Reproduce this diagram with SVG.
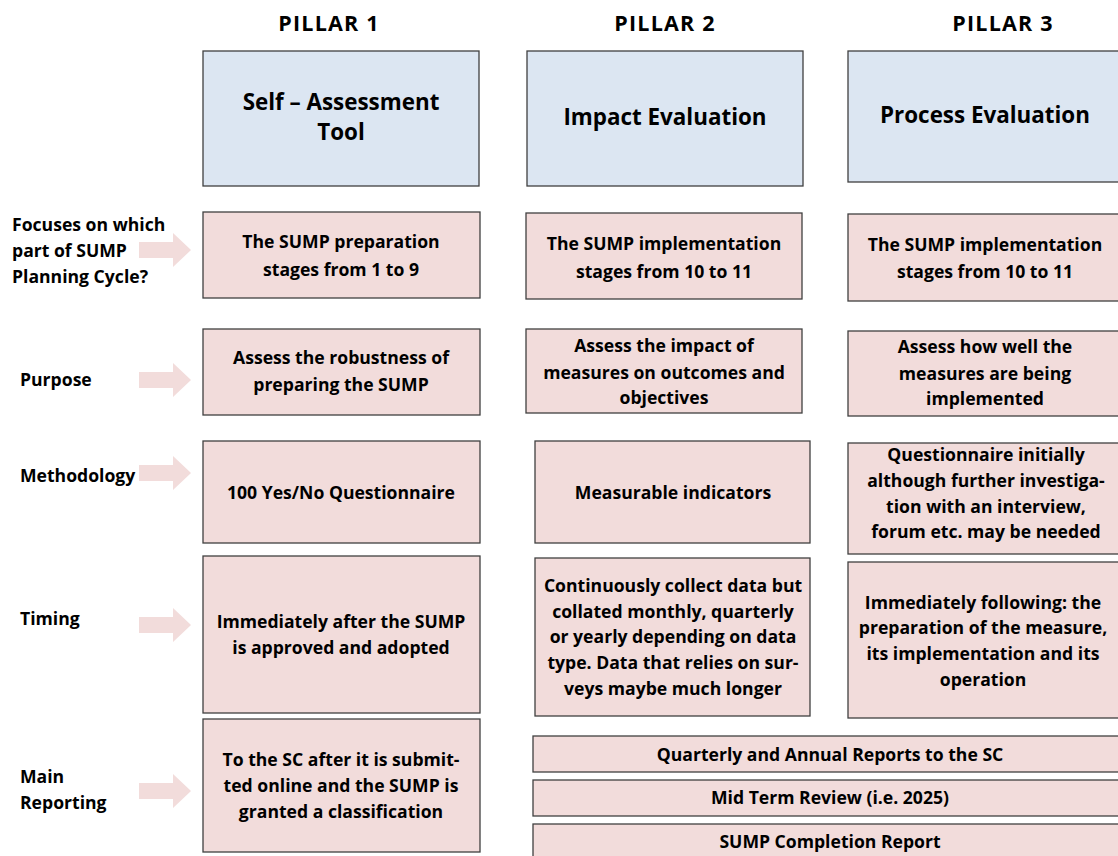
<svg xmlns="http://www.w3.org/2000/svg" width="1118" height="856" viewBox="0 0 1118 856">
<style>
  .hdr { fill: #dce6f2; stroke: #404040; stroke-width: 1.3; }
  .box { fill: #f2dcdb; stroke: #404040; stroke-width: 1.3; }
  .arr { fill: #f2dcdb; }
  text { font-family: "Open Sans", "Liberation Sans", sans-serif; font-weight: bold; fill: #000; }
  .t { font-size: 17.6px; text-anchor: middle; }
  .h { font-size: 22.4px; text-anchor: middle; }
  .p { font-size: 21.5px; letter-spacing: 1.2px; text-anchor: middle; }
  .l { font-size: 17.6px; }
</style>
<defs>
  <path id="arrow" d="M0,-8 H34 V-17 L52,0 L34,17 V8 H0 Z"/>
</defs>
<rect width="1118" height="856" fill="#fff"/>

<g id="pillar-titles">
  <text class="p" x="329" y="31">PILLAR 1</text>
  <text class="p" x="665" y="31">PILLAR 2</text>
  <text class="p" x="1003" y="31">PILLAR 3</text>
</g>

<g id="row-labels">
  <text class="l" x="12" y="231">Focuses on which</text>
  <text class="l" x="12" y="257">part of SUMP</text>
  <text class="l" x="12" y="283">Planning Cycle?</text>
  <text class="l" x="20" y="386">Purpose</text>
  <text class="l" x="20" y="482">Methodology</text>
  <text class="l" x="20" y="625">Timing</text>
  <text class="l" x="20" y="783">Main</text>
  <text class="l" x="20" y="809">Reporting</text>
</g>

<g id="connectors">
  <use href="#arrow" class="arr" x="139" y="250"/>
  <use href="#arrow" class="arr" x="139" y="380"/>
  <use href="#arrow" class="arr" x="139" y="473"/>
  <use href="#arrow" class="arr" x="139" y="625"/>
  <use href="#arrow" class="arr" x="139" y="791"/>
</g>

<g id="hdr-p1">
  <rect class="hdr" x="203" y="51" width="276" height="135"/>
  <text class="h" x="341" y="110">Self – Assessment</text>
  <text class="h" x="341" y="140">Tool</text>
</g>
<g id="hdr-p2">
  <rect class="hdr" x="527" y="51" width="276" height="135"/>
  <text class="h" x="665" y="125">Impact Evaluation</text>
</g>
<g id="hdr-p3">
  <rect class="hdr" x="848" y="51" width="274" height="131"/>
  <text class="h" x="985" y="123">Process Evaluation</text>
</g>

<g id="focus-p1">
  <rect class="box" x="203" y="212" width="277" height="86"/>
  <text class="t" x="341" y="248">The SUMP preparation</text>
  <text class="t" x="341" y="276">stages from 1 to 9</text>
</g>
<g id="focus-p2">
  <rect class="box" x="526" y="213" width="276" height="86"/>
  <text class="t" x="664" y="250">The SUMP implementation</text>
  <text class="t" x="664" y="278">stages from 10 to 11</text>
</g>
<g id="focus-p3">
  <rect class="box" x="848" y="214" width="274" height="87"/>
  <text class="t" x="985" y="251">The SUMP implementation</text>
  <text class="t" x="985" y="278">stages from 10 to 11</text>
</g>

<g id="purpose-p1">
  <rect class="box" x="203" y="329" width="277" height="86"/>
  <text class="t" x="341" y="364">Assess the robustness of</text>
  <text class="t" x="341" y="391">preparing the SUMP</text>
</g>
<g id="purpose-p2">
  <rect class="box" x="526" y="329" width="276" height="84"/>
  <text class="t" x="664" y="352">Assess the impact of</text>
  <text class="t" x="664" y="379">measures on outcomes and</text>
  <text class="t" x="664" y="404">objectives</text>
</g>
<g id="purpose-p3">
  <rect class="box" x="848" y="331" width="274" height="85"/>
  <text class="t" x="985" y="353">Assess how well the</text>
  <text class="t" x="985" y="380">measures are being</text>
  <text class="t" x="985" y="405">implemented</text>
</g>

<g id="method-p1">
  <rect class="box" x="203" y="441" width="277" height="102"/>
  <text class="t" x="341" y="499">100 Yes/No Questionnaire</text>
</g>
<g id="method-p2">
  <rect class="box" x="535" y="441" width="275" height="102"/>
  <text class="t" x="673" y="499">Measurable indicators</text>
</g>
<g id="method-p3">
  <rect class="box" x="848" y="443" width="274" height="111"/>
  <text class="t" x="986" y="461">Questionnaire initially</text>
  <text class="t" x="986" y="487">although further investiga-</text>
  <text class="t" x="986" y="513">tion with an interview,</text>
  <text class="t" x="986" y="538">forum etc. may be needed</text>
</g>

<g id="timing-p1">
  <rect class="box" x="203" y="556" width="277" height="157"/>
  <text class="t" x="341" y="628">Immediately after the SUMP</text>
  <text class="t" x="341" y="654">is approved and adopted</text>
</g>
<g id="timing-p2">
  <rect class="box" x="535" y="558" width="275" height="158"/>
  <text class="t" x="673" y="592">Continuously collect data but</text>
  <text class="t" x="673" y="618">collated monthly, quarterly</text>
  <text class="t" x="673" y="643">or yearly depending on data</text>
  <text class="t" x="673" y="669">type. Data that relies on sur-</text>
  <text class="t" x="673" y="695">veys maybe much longer</text>
</g>
<g id="timing-p3">
  <rect class="box" x="848" y="562" width="274" height="156"/>
  <text class="t" x="983" y="609">Immediately following: the</text>
  <text class="t" x="983" y="634">preparation of the measure,</text>
  <text class="t" x="983" y="660">its implementation and its</text>
  <text class="t" x="983" y="686">operation</text>
</g>

<g id="report-p1">
  <rect class="box" x="203" y="719" width="277" height="133"/>
  <text class="t" x="341" y="766">To the SC after it is submit-</text>
  <text class="t" x="341" y="792">ted online and the SUMP is</text>
  <text class="t" x="341" y="818">granted a classification</text>
</g>
<g id="report-quarterly">
  <rect class="box" x="533" y="736" width="590" height="36"/>
  <text class="t" x="830" y="761">Quarterly and Annual Reports to the SC</text>
</g>
<g id="report-midterm">
  <rect class="box" x="533" y="780" width="590" height="36"/>
  <text class="t" x="830" y="804">Mid Term Review (i.e. 2025)</text>
</g>
<g id="report-completion">
  <rect class="box" x="533" y="824" width="590" height="40"/>
  <text class="t" x="830" y="848">SUMP Completion Report</text>
</g>
</svg>
